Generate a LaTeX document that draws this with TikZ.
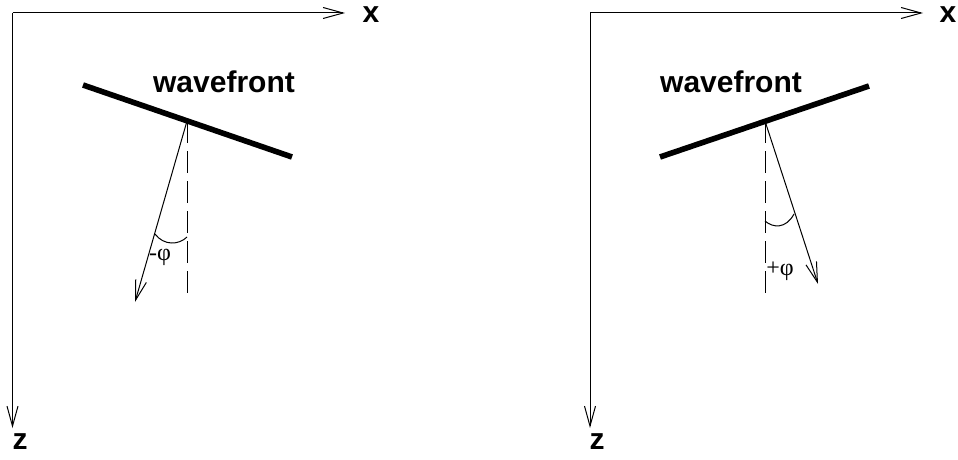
\documentclass[tikz,border=0pt]{standalone}
\usepackage{fontspec}
\setmainfont{Liberation Sans}
\newfontfamily\lblfont{Liberation Serif}
\usetikzlibrary{arrows.meta}

\begin{document}
\begin{tikzpicture}[
  x=0.5pt, y=-0.5pt,
  thin/.style={line width=0.5pt},
  arr/.style={thin, -{Straight Barb[length=10pt,width=5.5pt,line width=0.5pt]}},
  front/.style={line width=2.8pt},
  refline/.style={thin, dash pattern=on 11pt off 4pt},
  ax/.style={font=\bfseries\fontsize{15}{17}\selectfont, inner sep=0pt},
  ang/.style={font=\lblfont\fontsize{12}{14}\selectfont, inner sep=0pt},
]
\useasboundingbox (0,0) rectangle (958,460);
% left panel
\coordinate (o1) at (12.5,13);
\coordinate (xe1) at (345,13);
\coordinate (ze1) at (12.5,428);
\node[ax] (x1) at (371,15) {x};
\node[ax] (z1) at (20,442) {z};
\draw[arr] (o1) -- (xe1);
\draw[arr] (o1) -- (ze1);
\coordinate (wa1) at (83,85);
\coordinate (wb1) at (292,157);
\coordinate (p1) at (187,121);
\coordinate (d1) at (187,293);
\coordinate (r1) at (135,302);
\node[ax] (w1) at (224,82) {wavefront};
\draw[front] (wa1) -- (wb1);
\draw[refline] (p1) -- (d1);
\draw[arr] (p1) -- (r1);
\draw[thin] (155,234) .. controls (164,246) and (179,245) .. (187,237);
\node[ang] (phi1) at (160,257) {-φ};
% right panel
\coordinate (o2) at (590,13);
\coordinate (xe2) at (923,13);
\coordinate (ze2) at (590,428);
\node[ax] (x2) at (948,15) {x};
\node[ax] (z2) at (597,442) {z};
\draw[arr] (o2) -- (xe2);
\draw[arr] (o2) -- (ze2);
\coordinate (wa2) at (660,157);
\coordinate (wb2) at (869,86);
\coordinate (p2) at (765,121);
\coordinate (d2) at (765,293);
\coordinate (r2) at (818,284);
\node[ax] (w2) at (731,82) {wavefront};
\draw[front] (wa2) -- (wb2);
\draw[refline] (p2) -- (d2);
\draw[arr] (p2) -- (r2);
\draw[thin] (765,221) .. controls (773,228) and (786,229) .. (794,214);
\node[ang] (phi2) at (780,271) {+φ};
\end{tikzpicture}
\end{document}
